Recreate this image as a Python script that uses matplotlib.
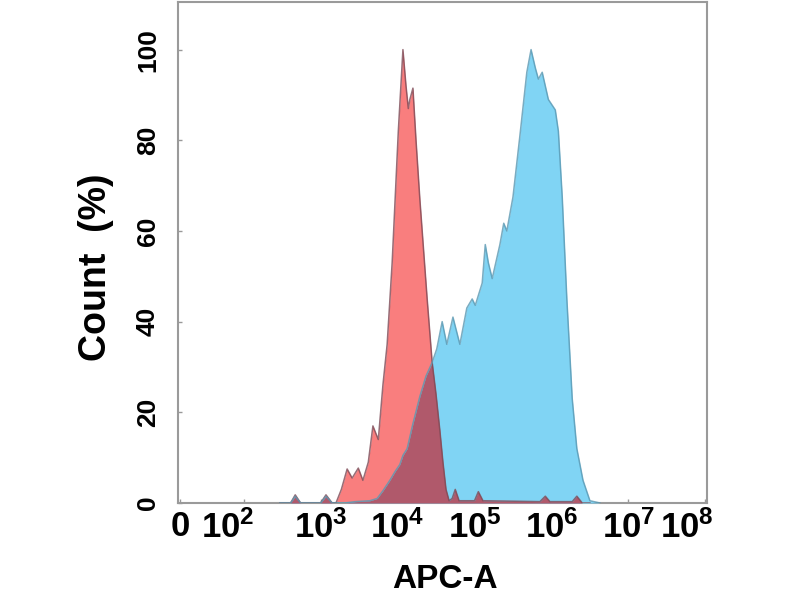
import numpy as np
import matplotlib
matplotlib.use("Agg")
import matplotlib.pyplot as plt
from matplotlib.ticker import FixedLocator, FixedFormatter, NullLocator
from matplotlib.transforms import ScaledTranslation

plt.rcParams['font.family'] = ['Liberation Sans', 'DejaVu Sans']
plt.rcParams['mathtext.fontset'] = 'custom'
plt.rcParams['mathtext.rm'] = 'Liberation Sans:bold'
plt.rcParams['mathtext.bf'] = 'Liberation Sans:bold'

# ---- data (log10 of APC-A intensity, Count %) ----
red_log10 = [2.47, 2.61, 2.67, 2.74, 3.00, 3.07, 3.15, 3.20, 3.27, 3.345, 3.41, 3.49,
             3.55, 3.62, 3.68, 3.75, 3.81, 3.865, 3.93, 4.01, 4.07, 4.11, 4.14, 4.16,
             4.20, 4.24, 4.29, 4.385, 4.45, 4.50, 4.55, 4.59, 4.63, 4.67, 4.71, 4.75,
             4.80, 5.00, 5.05, 5.11, 5.85, 5.92, 5.98, 6.27, 6.33, 6.40, 6.50]
red_count = [0, 0, 1.8, 0, 0, 1.8, 0, 0, 3, 7.5, 5.5, 7.7,
             5, 9, 17, 14, 26, 35, 53, 82, 100, 92, 87, 89,
             91.5, 80, 67, 45, 31, 24, 16, 9, 3, 0.5, 1, 3,
             0.5, 0.5, 2.5, 0.5, 0.3, 1.5, 0.3, 0.3, 1.5, 0, 0]

blue_log10 = [2.47, 2.61, 2.67, 2.74, 3.00, 3.07, 3.15, 3.32, 3.45, 3.64, 3.735, 3.81,
              3.90, 3.97, 4.03, 4.07, 4.125, 4.20, 4.29, 4.37, 4.45, 4.51, 4.58, 4.64,
              4.72, 4.81, 4.90, 4.97, 5.01, 5.10, 5.14, 5.18, 5.23, 5.33, 5.38, 5.42,
              5.50, 5.59, 5.68, 5.735, 5.79, 5.83, 5.88, 5.96, 6.05, 6.09, 6.14, 6.20,
              6.27, 6.33, 6.41, 6.50, 6.63]
blue_count = [0, 0, 1.5, 0, 0, 1.5, 0, 0, 0.3, 0.5, 1, 2.7,
              5, 7, 8.5, 10.5, 12, 17.5, 23.5, 28, 31, 34, 40, 35,
              41, 35, 43, 45, 43.6, 48.5, 57, 53, 49.5, 57, 61.7, 60,
              67.5, 81, 95, 100, 96, 93.5, 95, 89, 86.7, 82, 67.5, 45,
              23, 12, 5, 0.5, 0]

x_tick_values = [0, 1e2, 1e3, 1e4, 1e5, 1e6, 1e7, 1e8]
x_tick_labels = ['0', r'$\mathbf{10^{2}}$', r'$\mathbf{10^{3}}$', r'$\mathbf{10^{4}}$',
                 r'$\mathbf{10^{5}}$', r'$\mathbf{10^{6}}$', r'$\mathbf{10^{7}}$',
                 r'$\mathbf{10^{8}}$']
y_ticks = [0, 20, 40, 60, 80, 100]

# ---- colours ----
red_fill = '#F97E7E'
blue_fill = '#80D4F4'
overlap_fill = '#B0596B'
red_edge = '#7E4A56'
blue_edge = '#5A98B2'

fig = plt.figure(figsize=(8, 6), dpi=100)
ax = fig.add_axes([178 / 800, 1 - 503 / 600, 529 / 800, 501 / 600])
ax.set_xscale('asinh', linear_width=30)

rx = 10 ** np.array(red_log10)
bx = 10 ** np.array(blue_log10)
ry = np.array(red_count)
by = np.array(blue_count)

ax.fill_between(rx, 0, ry, color=red_fill, lw=0, zorder=2)
ax.fill_between(bx, 0, by, color=blue_fill, lw=0, zorder=3)

# overlap region (where both histograms are present)
grid = np.linspace(min(red_log10[0], blue_log10[0]), max(red_log10[-1], blue_log10[-1]), 4000)
r_on = np.interp(grid, red_log10, red_count, left=0, right=0)
b_on = np.interp(grid, blue_log10, blue_count, left=0, right=0)
ax.fill_between(10 ** grid, 0, np.minimum(r_on, b_on), color=overlap_fill, lw=0, zorder=4)

ax.plot(rx, ry, color=red_edge, lw=1.1, alpha=0.8, zorder=5)
ax.plot(bx, by, color=blue_edge, lw=1.1, alpha=0.8, zorder=5)

ax.set_xlim(-2, 1.05e8)
ax.set_ylim(0, 110.5)

ax.xaxis.set_major_locator(FixedLocator(x_tick_values))
ax.xaxis.set_major_formatter(FixedFormatter(x_tick_labels))
ax.xaxis.set_minor_locator(NullLocator())
ax.set_yticks(y_ticks)
ax.set_yticklabels([str(v) for v in y_ticks])

ax.tick_params(axis='x', direction='in', length=3, width=1, color='#999999',
               labelsize=25, pad=5)
ax.tick_params(axis='y', direction='in', length=3, width=1, color='#999999',
               labelsize=19, pad=13, labelrotation=90)
for lab in ax.get_yticklabels():
    lab.set_fontweight('bold')
    lab.set_va('center')
for lab in ax.get_xticklabels():
    lab.set_fontweight('bold')

xl = ax.get_xticklabels()
shift = ScaledTranslation(-17 / 100, 0, fig.dpi_scale_trans)
xl[1].set_transform(xl[1].get_transform() + shift)
xl[-1].set_transform(xl[-1].get_transform() + ScaledTranslation(-19 / 100, 0, fig.dpi_scale_trans))

for s in ax.spines.values():
    s.set_color('#9a9a9a')
    s.set_linewidth(1.5)

fig.text(96 / 800, 1 - 267 / 600, 'Count  (%)', rotation=90, ha='center', va='center',
         fontsize=27, fontweight='bold')
fig.text(445 / 800, 1 - 580 / 600, 'APC-A', ha='center', va='center',
         fontsize=24, fontweight='bold')

fig.savefig('out.png', dpi=100)
